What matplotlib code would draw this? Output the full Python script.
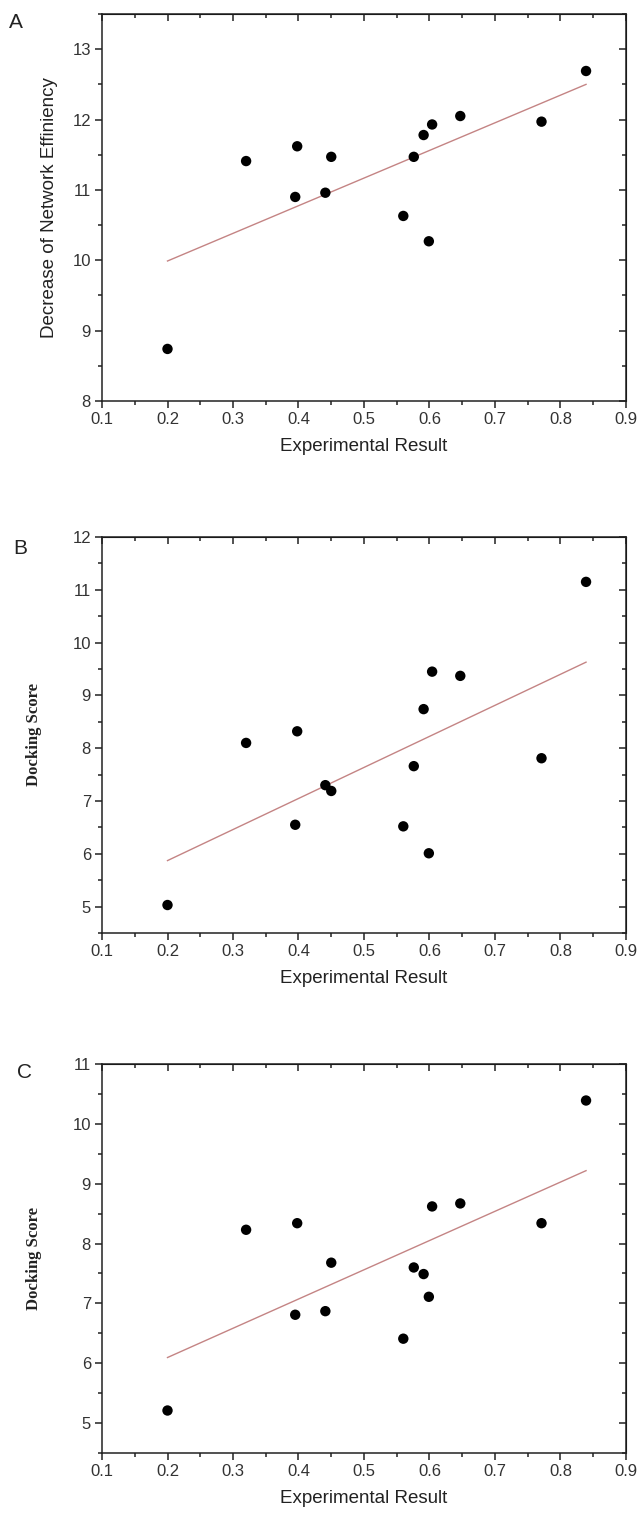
import numpy as np
import matplotlib.pyplot as plt
from matplotlib.ticker import MultipleLocator

# experimental result (shared x values)
exp_x = [0.20, 0.32, 0.398, 0.395, 0.441, 0.45, 0.56, 0.576, 0.591, 0.599, 0.604, 0.647, 0.771, 0.839]

# panel A: decrease of network efficiency
neteff_a = [8.74, 11.41, 11.62, 10.90, 10.96, 11.47, 10.63, 11.47, 11.78, 10.27, 11.93, 12.05, 11.97, 12.69]
# panel B: docking score
dock_b = [5.03, 8.10, 8.32, 6.55, 7.30, 7.19, 6.52, 7.66, 8.74, 6.01, 9.45, 9.37, 7.81, 11.15]
# panel C: docking score
dock_c = [5.21, 8.23, 8.34, 6.81, 6.87, 7.68, 6.41, 7.60, 7.49, 7.11, 8.62, 8.67, 8.34, 10.39]

panels = [
    ('A', neteff_a, 'Decrease of Network Effiniency', (8, 13.5)),
    ('B', dock_b, 'Docking Score', (4.5, 12)),
    ('C', dock_c, 'Docking Score', (4.5, 11)),
]

W, H = 638, 1514
# axes boxes in pixels: left, top, right, bottom
px_boxes = [(102, 14, 626, 401), (102, 537, 626, 933), (102, 1064, 626, 1453)]
letter_pos = [(16, 23), (20, 548), (24, 1072)]

fig = plt.figure(figsize=(W / 100.0, H / 100.0), dpi=100)
sans = ['Liberation Sans', 'DejaVu Sans']
serif = ['Liberation Serif', 'DejaVu Serif']
dark = '#222222'

x = np.array(exp_x)
for ii in range(3):
    tag, yv, ylab, ylim = panels[ii]
    y = np.array(yv)
    l, t, r, btm = px_boxes[ii]
    ax = fig.add_axes([l / W, 1 - btm / H, (r - l) / W, (btm - t) / H])
    ax.scatter(x, y, s=56, color='black', zorder=3, edgecolors='none')
    k, b = np.polyfit(x, y, 1)
    xl = np.array([x.min(), x.max()])
    ax.plot(xl, k * xl + b, color='#c48484', lw=1.0, zorder=2)

    ax.set_xlim(0.1, 0.9)
    ax.set_ylim(*ylim)
    xt = np.arange(0.1, 0.91, 0.1)
    ax.set_xticks(xt)
    ax.set_xticklabels(['%.1f' % v for v in xt])
    ax.xaxis.set_minor_locator(MultipleLocator(0.05))
    yt = np.arange(np.ceil(ylim[0]), ylim[1] + 0.01, 1)
    ax.set_yticks(yt)
    ax.set_yticklabels(['%d' % v for v in yt])
    ax.yaxis.set_minor_locator(MultipleLocator(0.5))

    for sp in ax.spines.values():
        sp.set_linewidth(1.1)
        sp.set_color(dark)
    ax.tick_params(axis='both', which='major', direction='out', length=5, width=1.1,
                   labelsize=12, colors=dark, pad=3)
    ax.tick_params(axis='both', which='minor', direction='out', length=3, width=1.1, colors=dark)
    for lab in ax.get_xticklabels() + ax.get_yticklabels():
        lab.set_family(sans)
        lab.set_color('#333333')

    # inward ticks on the top and right side
    ax2 = ax.secondary_xaxis('top')
    ax2.set_xticks(xt, labels=[])
    ax2.xaxis.set_minor_locator(MultipleLocator(0.05))
    ax2.tick_params(which='major', direction='in', length=5, width=1.1, colors=dark)
    ax2.tick_params(which='minor', direction='in', length=3, width=1.1, colors=dark)
    ay2 = ax.secondary_yaxis('right')
    ay2.set_yticks(yt, labels=[])
    ay2.yaxis.set_minor_locator(MultipleLocator(0.5))
    ay2.tick_params(which='major', direction='in', length=5, width=1.1, colors=dark)
    ay2.tick_params(which='minor', direction='in', length=3, width=1.1, colors=dark)

    ax.set_xlabel('Experimental Result', family=sans, fontsize=13.5, color=dark, labelpad=8)
    if tag == 'A':
        ax.set_ylabel(ylab, family=sans, fontsize=13.5, color=dark, labelpad=10)
    else:
        ax.set_ylabel(ylab, family=serif, fontweight='bold', fontsize=12, color=dark, labelpad=22)

    lx, ly = letter_pos[ii]
    fig.text(lx / W, 1 - ly / H, tag, family=sans, fontsize=15, va='center', ha='center', color=dark)

fig.savefig('out.png', dpi=100)
